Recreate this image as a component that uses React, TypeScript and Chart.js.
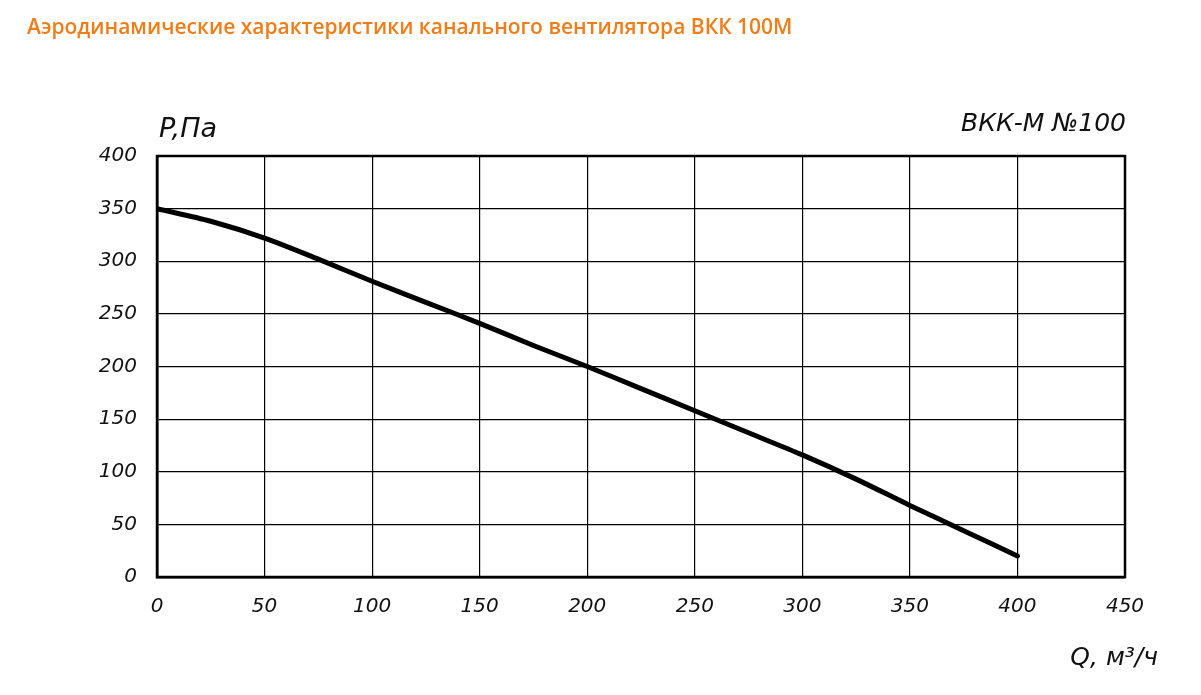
import React, { useEffect, useRef } from "react";
import { Chart, registerables } from "chart.js";

Chart.register(...registerables);

const titleText = "Аэродинамические характеристики канального вентилятора ВКК 100М";
const yAxisTitle = "P,Па";
const xAxisTitle = "Q, м³/ч";
const modelLabel = "ВКК-М №100";

const flowQ = [0, 25, 50, 75, 100, 125, 150, 175, 200, 225, 250, 275, 300, 325, 350, 375, 400];
const pressureP = [350, 338, 322, 302, 281, 261, 241, 220, 200, 179, 158, 137, 116, 93, 68, 44, 20];

const xMin = 0, xMax = 450, xStep = 50;
const yMin = 0, yMax = 400, yStep = 50;

const L = 157, R = 1125, T = 156, B = 577;
const W = 1201, H = 695;
const tickFont = { family: "'DejaVu Sans', sans-serif", style: "italic" as const, size: 20, weight: "normal" as const };

const textPlugin = {
  id: "textPlugin",
  afterDraw(chart: any) {
    const ctx = chart.ctx;
    const a = chart.chartArea;
    ctx.save();
    // frame
    ctx.strokeStyle = "#000";
    ctx.lineWidth = 2.5;
    ctx.strokeRect(a.left, a.top, a.right - a.left, a.bottom - a.top);
    // title
    ctx.fillStyle = "#f07d17";
    ctx.font = "600 21px 'Open Sans', sans-serif";
    ctx.textBaseline = "middle";
    ctx.textAlign = "left";
    ctx.fillText(titleText, 27, 28);
    ctx.fillStyle = "#111";
    ctx.font = "italic 27px 'DejaVu Sans', sans-serif";
    ctx.textAlign = "left";
    ctx.fillText(yAxisTitle, a.left + 2, 130);
    ctx.textAlign = "right";
    ctx.font = "italic 25px 'DejaVu Sans', sans-serif";
    ctx.fillText(modelLabel, a.right + 1, 124);
    ctx.font = "italic 25px 'DejaVu Sans', sans-serif";
    ctx.fillText(xAxisTitle, 1158, 658);
    ctx.restore();
  },
};

export default function App() {
  const ref = useRef<HTMLCanvasElement>(null);
  useEffect(() => {
    document.body.style.margin = "0";
    const chart = new Chart(ref.current!, {
      type: "line",
      data: {
        datasets: [
          {
            data: flowQ.map((q, i) => ({ x: q, y: pressureP[i] })),
            borderColor: "#000",
            borderWidth: 5,
            pointRadius: 0,
            tension: 0.3,
            borderCapStyle: "round",
          },
        ],
      },
      options: {
        animation: false,
        responsive: false,
        layout: { padding: { left: 0, top: T, right: W - R, bottom: 0 } },
        plugins: { legend: { display: false }, tooltip: { enabled: false }, title: { display: false } },
        scales: {
          x: {
            type: "linear",
            min: xMin,
            max: xMax,
            ticks: { stepSize: xStep, color: "#111", font: tickFont, padding: 18 },
            grid: { color: "#000", lineWidth: 1.2, drawTicks: false },
            border: { color: "#000", width: 2.5 },
            afterFit: (s: any) => { s.height = H - B; },
          },
          y: {
            type: "linear",
            min: yMin,
            max: yMax,
            ticks: { stepSize: yStep, color: "#111", font: tickFont, padding: 20 },
            grid: { color: "#000", lineWidth: 1.2, drawTicks: false },
            border: { color: "#000", width: 2.5 },
            afterFit: (s: any) => { s.width = L; },
          },
        },
      },
      plugins: [textPlugin],
    });
    return () => chart.destroy();
  }, []);
  return <canvas ref={ref} width={W} height={H} style={{ display: "block" }} />;
}
